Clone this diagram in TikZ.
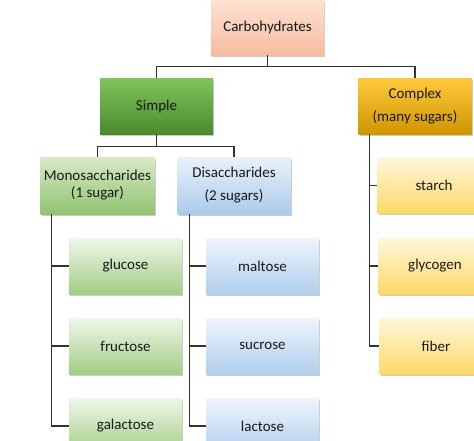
\documentclass[tikz,border=0pt]{standalone}
\usepackage{fontspec}
\setmainfont{Carlito}
\usetikzlibrary{shadows}
% box colours, top and bottom of each gradient
\definecolor{carboT}{HTML}{FCE3D4}
\definecolor{carboB}{HTML}{F6BC9E}
\definecolor{simpleT}{HTML}{80C45C}
\definecolor{simpleB}{HTML}{4B8A2D}
\definecolor{complexT}{HTML}{FFC93C}
\definecolor{complexB}{HTML}{CF9600}
\definecolor{monoT}{HTML}{D6EAC7}
\definecolor{monoB}{HTML}{92C470}
\definecolor{diT}{HTML}{E9F2FB}
\definecolor{diB}{HTML}{ABCAEA}
\definecolor{greenT}{HTML}{EEF6E8}
\definecolor{greenB}{HTML}{A3CE86}
\definecolor{blueT}{HTML}{EFF5FC}
\definecolor{blueB}{HTML}{B0CEEC}
\definecolor{yellowT}{HTML}{FFF7DC}
\definecolor{yellowB}{HTML}{FFD867}
\tikzset{
	box/.style={minimum width=113pt, minimum height=56pt, align=center,
		font=\fontsize{15}{17}\selectfont, text=black!90,
		drop shadow={shadow xshift=1.2pt, shadow yshift=-1.6pt, opacity=0.4}},
	carbo/.style={box, top color=carboT, bottom color=carboB},
	simple/.style={box, top color=simpleT, bottom color=simpleB},
	complex/.style={box, top color=complexT, bottom color=complexB},
	mono/.style={box, minimum height=57pt, top color=monoT, bottom color=monoB},
	di/.style={box, minimum height=57pt, top color=diT, bottom color=diB},
	greenleaf/.style={box, top color=greenT, bottom color=greenB},
	blueleaf/.style={box, top color=blueT, bottom color=blueB},
	yellowleaf/.style={box, top color=yellowT, bottom color=yellowB},
	link/.style={draw=black!80, line width=1.1pt},
}
\newcommand{\leaf}[5] % name, x, y, style, text
{
	\node[#4] (#1) at (#2,#3) {#5};
}

\begin{document}
\begin{tikzpicture}[x=1pt, y=-1pt]
	% page 474 x 440, y runs downwards
	\fill[white] (0,0) rectangle (474,440);
	\useasboundingbox (0,0) rectangle (474,440);
	\clip (0,0) rectangle (474,440);
	
	\leaf{carbo}{267.5}{27}{carbo}{Carbohydrates};
	\leaf{simple}{156.5}{106}{simple}{Simple};
	\leaf{complex}{415}{106}{complex}{Complex\\[6pt](many sugars)};
	
	\leaf{mono}{97.5}{185.5}{mono}{Monosaccharides\\(1 sugar)};
	\leaf{di}{234}{185.5}{di}{Disaccharides\\[6pt](2 sugars)};
	
	\leaf{glucose}{125.5}{266}{greenleaf}{glucose};
	\leaf{fructose}{125.5}{346}{greenleaf}{fructose};
	\leaf{galactose}{125.5}{426}{greenleaf}{galactose};
	
	\leaf{maltose}{262.5}{266}{blueleaf}{maltose};
	\leaf{sucrose}{262.5}{346}{blueleaf}{sucrose};
	\leaf{lactose}{262.5}{426}{blueleaf}{lactose};
	
	\leaf{starch}{434}{185.5}{yellowleaf}{starch};
	\leaf{glycogen}{435}{266}{yellowleaf}{glycogen};
	\leaf{fiber}{436}{346}{yellowleaf}{fiber};
	
	% top level
	\draw[link] (carbo.south) -- ++(0,11) -| (simple.north);
	\draw[link] (carbo.south) -- ++(0,11) -| (complex.north);
	% simple sugars
	\draw[link] (simple.south) -- ++(0,12) -| (mono.north);
	\draw[link] (simple.south) -- ++(0,12) -| (di.north);
	
	% trunks down the left side of each column
	\draw[link] (mono.south west) ++(11,0) |- (glucose.west);
	\draw[link] (mono.south west) ++(11,0) |- (fructose.west);
	\draw[link] (mono.south west) ++(11,0) |- (galactose.west);
	
	\draw[link] (di.south west) ++(12,0) |- (maltose.west);
	\draw[link] (di.south west) ++(12,0) |- (sucrose.west);
	\draw[link] (di.south west) ++(12,0) |- (lactose.west);
	
	\draw[link] (complex.south west) ++(11,0) |- (starch.west);
	\draw[link] (complex.south west) ++(11,0) |- (glycogen.west);
	\draw[link] (complex.south west) ++(11,0) |- (fiber.west);
	
\end{tikzpicture}
\end{document}
